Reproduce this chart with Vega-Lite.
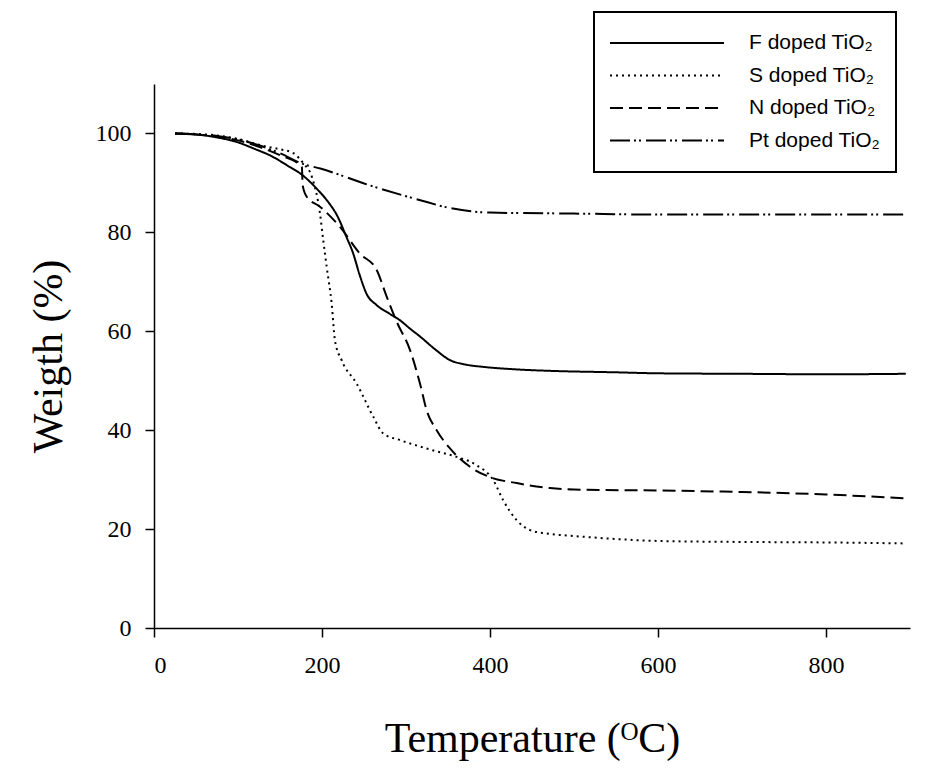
{
  "$schema": "https://vega.github.io/schema/vega-lite/v6.json",
  "width": 756,
  "height": 544,
  "autosize": {"type": "none"},
  "padding": {"left": 154, "top": 84, "right": 37, "bottom": 141},
  "background": "white",
  "config": {
    "view": {"stroke": null},
    "axis": {
      "grid": false,
      "domainColor": "black",
      "domainWidth": 1.5,
      "tickColor": "black",
      "tickWidth": 1.5,
      "tickSize": 9,
      "labelFont": "Liberation Serif",
      "labelFontSize": 24,
      "labelColor": "black",
      "titleFont": "Liberation Serif",
      "titleFontSize": 42,
      "titleFontWeight": "normal",
      "titleColor": "black"
    },
    "legend": {
      "orient": "none",
      "legendX": 440,
      "legendY": -72,
      "strokeColor": "black",
      "strokeWidth": 2,
      "padding": 15,
      "symbolType": "stroke",
      "symbolSize": 12996,
      "symbolStrokeWidth": 2,
      "symbolStrokeColor": "black",
      "labelFont": "Liberation Sans",
      "labelFontSize": 21,
      "labelColor": "black",
      "labelOffset": 24,
      "clipHeight": 32,
      "rowPadding": 0.5,
      "title": null
    }
  },
  "data": {
    "values": [
      {"series": "F doped TiO₂", "t": 25, "w": 100},
      {"series": "F doped TiO₂", "t": 50, "w": 99.8},
      {"series": "F doped TiO₂", "t": 75, "w": 99.2},
      {"series": "F doped TiO₂", "t": 100, "w": 98.2},
      {"series": "F doped TiO₂", "t": 118, "w": 97.0},
      {"series": "F doped TiO₂", "t": 140, "w": 95.4},
      {"series": "F doped TiO₂", "t": 158, "w": 93.6},
      {"series": "F doped TiO₂", "t": 178, "w": 91.4},
      {"series": "F doped TiO₂", "t": 195, "w": 88.6},
      {"series": "F doped TiO₂", "t": 208, "w": 86.0},
      {"series": "F doped TiO₂", "t": 218, "w": 83.4},
      {"series": "F doped TiO₂", "t": 229, "w": 79.1},
      {"series": "F doped TiO₂", "t": 237, "w": 75.8},
      {"series": "F doped TiO₂", "t": 245, "w": 71.3},
      {"series": "F doped TiO₂", "t": 253, "w": 67.6},
      {"series": "F doped TiO₂", "t": 265, "w": 65.3},
      {"series": "F doped TiO₂", "t": 280, "w": 63.6},
      {"series": "F doped TiO₂", "t": 293, "w": 62.2},
      {"series": "F doped TiO₂", "t": 305, "w": 60.5},
      {"series": "F doped TiO₂", "t": 317, "w": 58.9},
      {"series": "F doped TiO₂", "t": 335, "w": 56.3},
      {"series": "F doped TiO₂", "t": 352, "w": 54.2},
      {"series": "F doped TiO₂", "t": 370, "w": 53.3},
      {"series": "F doped TiO₂", "t": 392, "w": 52.8},
      {"series": "F doped TiO₂", "t": 430, "w": 52.3},
      {"series": "F doped TiO₂", "t": 471, "w": 52.0},
      {"series": "F doped TiO₂", "t": 550, "w": 51.7},
      {"series": "F doped TiO₂", "t": 600, "w": 51.5},
      {"series": "F doped TiO₂", "t": 700, "w": 51.4},
      {"series": "F doped TiO₂", "t": 800, "w": 51.3},
      {"series": "F doped TiO₂", "t": 895, "w": 51.4},

      {"series": "S doped TiO₂", "t": 25, "w": 100},
      {"series": "S doped TiO₂", "t": 50, "w": 99.9},
      {"series": "S doped TiO₂", "t": 75, "w": 99.6},
      {"series": "S doped TiO₂", "t": 100, "w": 98.9},
      {"series": "S doped TiO₂", "t": 130, "w": 97.5},
      {"series": "S doped TiO₂", "t": 150, "w": 96.8},
      {"series": "S doped TiO₂", "t": 166, "w": 96.0},
      {"series": "S doped TiO₂", "t": 178, "w": 93.9},
      {"series": "S doped TiO₂", "t": 188, "w": 91.2},
      {"series": "S doped TiO₂", "t": 197.6, "w": 83.8},
      {"series": "S doped TiO₂", "t": 201.5, "w": 78.4},
      {"series": "S doped TiO₂", "t": 205.6, "w": 73.0},
      {"series": "S doped TiO₂", "t": 211.5, "w": 65.6},
      {"series": "S doped TiO₂", "t": 215.5, "w": 58.1},
      {"series": "S doped TiO₂", "t": 223.5, "w": 54.1},
      {"series": "S doped TiO₂", "t": 241.3, "w": 49.4},
      {"series": "S doped TiO₂", "t": 261.1, "w": 42.7},
      {"series": "S doped TiO₂", "t": 273, "w": 39.3},
      {"series": "S doped TiO₂", "t": 292.9, "w": 38.0},
      {"series": "S doped TiO₂", "t": 332.5, "w": 35.9},
      {"series": "S doped TiO₂", "t": 360.4, "w": 34.6},
      {"series": "S doped TiO₂", "t": 384.2, "w": 32.9},
      {"series": "S doped TiO₂", "t": 403.9, "w": 29.9},
      {"series": "S doped TiO₂", "t": 415.8, "w": 25.8},
      {"series": "S doped TiO₂", "t": 431.8, "w": 21.8},
      {"series": "S doped TiO₂", "t": 447.6, "w": 19.8},
      {"series": "S doped TiO₂", "t": 467.5, "w": 19.1},
      {"series": "S doped TiO₂", "t": 500, "w": 18.6},
      {"series": "S doped TiO₂", "t": 550, "w": 18.0},
      {"series": "S doped TiO₂", "t": 600, "w": 17.6},
      {"series": "S doped TiO₂", "t": 700, "w": 17.4},
      {"series": "S doped TiO₂", "t": 800, "w": 17.3},
      {"series": "S doped TiO₂", "t": 895, "w": 17.1},

      {"series": "N doped TiO₂", "t": 25, "w": 100},
      {"series": "N doped TiO₂", "t": 50, "w": 99.8},
      {"series": "N doped TiO₂", "t": 75, "w": 99.4},
      {"series": "N doped TiO₂", "t": 100, "w": 98.6},
      {"series": "N doped TiO₂", "t": 125, "w": 97.3},
      {"series": "N doped TiO₂", "t": 150, "w": 95.6},
      {"series": "N doped TiO₂", "t": 176, "w": 93.3},
      {"series": "N doped TiO₂", "t": 177, "w": 89.5},
      {"series": "N doped TiO₂", "t": 181.8, "w": 87.2},
      {"series": "N doped TiO₂", "t": 197.6, "w": 85.2},
      {"series": "N doped TiO₂", "t": 221.4, "w": 81.1},
      {"series": "N doped TiO₂", "t": 245.2, "w": 75.7},
      {"series": "N doped TiO₂", "t": 265.1, "w": 72.4},
      {"series": "N doped TiO₂", "t": 277, "w": 67.0},
      {"series": "N doped TiO₂", "t": 289, "w": 61.9},
      {"series": "N doped TiO₂", "t": 304.8, "w": 56.2},
      {"series": "N doped TiO₂", "t": 316.7, "w": 49.4},
      {"series": "N doped TiO₂", "t": 324.6, "w": 44.0},
      {"series": "N doped TiO₂", "t": 336.5, "w": 40.0},
      {"series": "N doped TiO₂", "t": 352.4, "w": 36.3},
      {"series": "N doped TiO₂", "t": 376.2, "w": 32.6},
      {"series": "N doped TiO₂", "t": 400, "w": 30.5},
      {"series": "N doped TiO₂", "t": 431.8, "w": 29.3},
      {"series": "N doped TiO₂", "t": 471.4, "w": 28.3},
      {"series": "N doped TiO₂", "t": 500, "w": 28.0},
      {"series": "N doped TiO₂", "t": 600, "w": 27.8},
      {"series": "N doped TiO₂", "t": 700, "w": 27.5},
      {"series": "N doped TiO₂", "t": 800, "w": 27.0},
      {"series": "N doped TiO₂", "t": 895, "w": 26.2},

      {"series": "Pt doped TiO₂", "t": 25, "w": 100},
      {"series": "Pt doped TiO₂", "t": 50, "w": 99.8},
      {"series": "Pt doped TiO₂", "t": 75, "w": 99.5},
      {"series": "Pt doped TiO₂", "t": 100, "w": 98.8},
      {"series": "Pt doped TiO₂", "t": 125, "w": 97.6},
      {"series": "Pt doped TiO₂", "t": 150, "w": 96.0},
      {"series": "Pt doped TiO₂", "t": 178, "w": 93.8},
      {"series": "Pt doped TiO₂", "t": 198, "w": 92.9},
      {"series": "Pt doped TiO₂", "t": 257, "w": 89.5},
      {"series": "Pt doped TiO₂", "t": 317, "w": 86.5},
      {"series": "Pt doped TiO₂", "t": 350, "w": 85.0},
      {"series": "Pt doped TiO₂", "t": 375, "w": 84.3},
      {"series": "Pt doped TiO₂", "t": 400, "w": 84.0},
      {"series": "Pt doped TiO₂", "t": 500, "w": 83.8},
      {"series": "Pt doped TiO₂", "t": 600, "w": 83.6},
      {"series": "Pt doped TiO₂", "t": 700, "w": 83.6},
      {"series": "Pt doped TiO₂", "t": 800, "w": 83.6},
      {"series": "Pt doped TiO₂", "t": 895, "w": 83.6}
    ]
  },
  "mark": {"type": "line", "interpolate": "monotone", "strokeWidth": 2, "color": "black"},
  "encoding": {
    "x": {
      "field": "t",
      "type": "quantitative",
      "scale": {"domain": [0, 900], "nice": false, "zero": false},
      "axis": {"values": [0, 200, 400, 600, 800], "title": "Temperature (ᴼC)", "labelPadding": 16, "titlePadding": 41}
    },
    "y": {
      "field": "w",
      "type": "quantitative",
      "scale": {"domain": [0, 110], "nice": false},
      "axis": {"values": [0, 20, 40, 60, 80, 100], "title": "Weigth (%)", "labelPadding": 14, "titlePadding": 25}
    },
    "strokeDash": {
      "field": "series",
      "type": "nominal",
      "sort": null,
      "scale": {
        "domain": ["F doped TiO₂", "S doped TiO₂", "N doped TiO₂", "Pt doped TiO₂"],
        "range": [[1, 0], [2, 4], [13, 6], [20, 4, 2, 3, 2, 5]]
      }
    }
  }
}
